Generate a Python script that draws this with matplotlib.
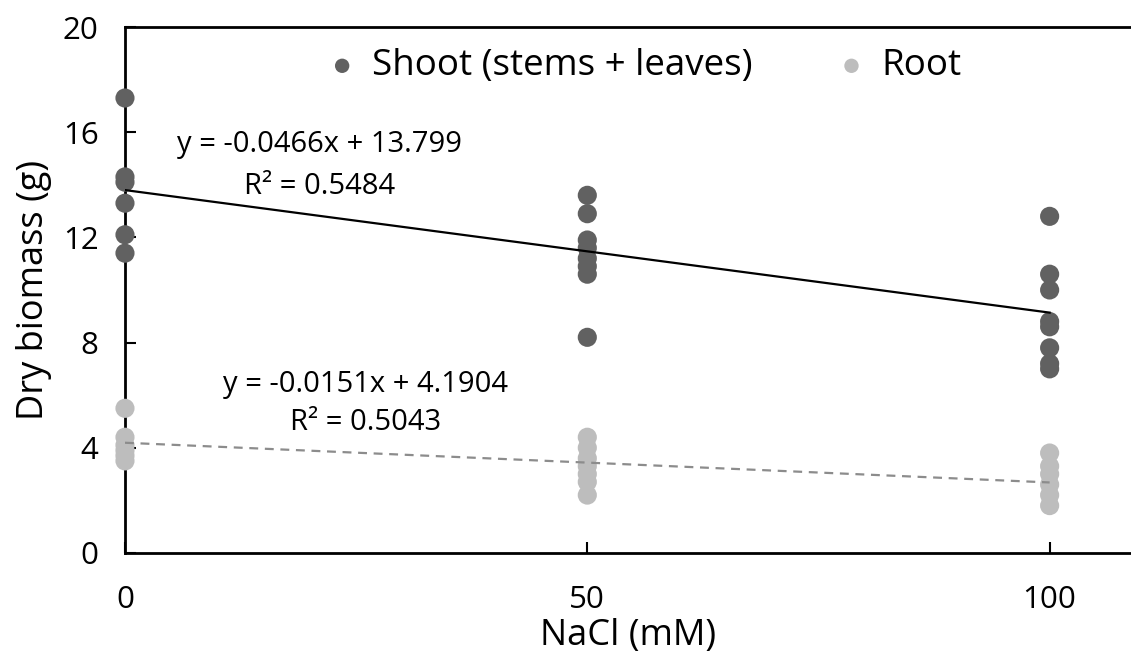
import matplotlib
matplotlib.use("Agg")
import matplotlib.pyplot as plt
import numpy as np

plt.rcParams['font.family'] = ['Open Sans', 'DejaVu Sans']

# NaCl treatment levels (mM)
nacl_levels = [0, 50, 100]

# Dry biomass (g) per plant at each treatment
shoot_0 = [17.3, 14.3, 14.1, 13.3, 12.1, 11.4]
shoot_50 = [13.6, 12.9, 11.9, 11.6, 11.2, 10.9, 10.6, 8.2]
shoot_100 = [12.8, 10.6, 10.0, 8.8, 8.6, 7.8, 7.2, 7.0]

root_0 = [5.5, 4.4, 4.1, 3.9, 3.7, 3.5]
root_50 = [4.4, 4.0, 3.6, 3.3, 3.0, 2.7, 2.2]
root_100 = [3.8, 3.3, 3.0, 2.6, 2.2, 1.8]

# Linear trend coefficients (slope, intercept) and R²
shoot_fit = (-0.0466, 13.799, 0.5484)
root_fit = (-0.0151, 4.1904, 0.5043)

y_ticks = [0, 4, 8, 12, 16, 20]
x_ticks = [0, 50, 100]

shoot_color = '#616161'
root_color = '#bdbdbd'

fig = plt.figure(figsize=(11.31, 6.67), dpi=100)
ax = fig.add_axes([0.1105, 0.171, 0.8895, 0.7885])


def stack(levels, groups):
    xs, ys = [], []
    for lvl, vals in zip(levels, groups):
        xs += [lvl] * len(vals)
        ys += list(vals)
    return np.array(xs), np.array(ys)


sx, sy = stack(nacl_levels, [shoot_0, shoot_50, shoot_100])
rx, ry = stack(nacl_levels, [root_0, root_50, root_100])

ax.scatter(sx, sy, s=190, color=shoot_color, edgecolors='none', zorder=3,
           label='Shoot (stems + leaves)', clip_on=False)
ax.scatter(rx, ry, s=190, color=root_color, edgecolors='none', zorder=3,
           label='Root', clip_on=False)

xfit = np.array([nacl_levels[0], nacl_levels[-1]])
ax.plot(xfit, shoot_fit[0] * xfit + shoot_fit[1], color='black', lw=1.6, zorder=4)
ax.plot(xfit, root_fit[0] * xfit + root_fit[1], color='#8c8c8c', lw=1.6,
        ls=(0, (4, 3)), zorder=4)

eq_size = 21
ax.text(21.0, 15.55, f'y = {shoot_fit[0]}x + {shoot_fit[1]}', ha='center', va='center',
        fontsize=eq_size)
ax.text(21.0, 13.95, f'R² = {shoot_fit[2]}', ha='center', va='center', fontsize=eq_size)
ax.text(26.0, 6.4, f'y = {root_fit[0]}x + {root_fit[1]}', ha='center', va='center',
        fontsize=eq_size)
ax.text(26.0, 4.95, f'R² = {root_fit[2]}', ha='center', va='center', fontsize=eq_size)

ax.set_xlim(0, 108.8)
ax.set_ylim(0, 20)
ax.set_xticks(x_ticks)
ax.set_yticks(y_ticks)
ax.tick_params(axis='both', direction='in', length=8, width=1.5, labelsize=22.5,
               colors='black')
ax.tick_params(axis='y', pad=19)
ax.tick_params(axis='x', pad=23)

for side in ['left', 'bottom', 'top']:
    ax.spines[side].set_linewidth(2)
    ax.spines[side].set_color('black')
ax.spines['right'].set_visible(False)

ax.set_xlabel('NaCl (mM)', fontsize=26, labelpad=2)
ax.set_ylabel('Dry biomass (g)', fontsize=26, labelpad=8)

leg = ax.legend(loc='center', bbox_to_anchor=(0.5125, 0.925), ncol=2, frameon=False,
                fontsize=26.5, handlelength=1.2, handletextpad=0.2, columnspacing=2.1,
                markerscale=0.75, borderpad=0)

fig.savefig('out.png', dpi=100, facecolor='white')
